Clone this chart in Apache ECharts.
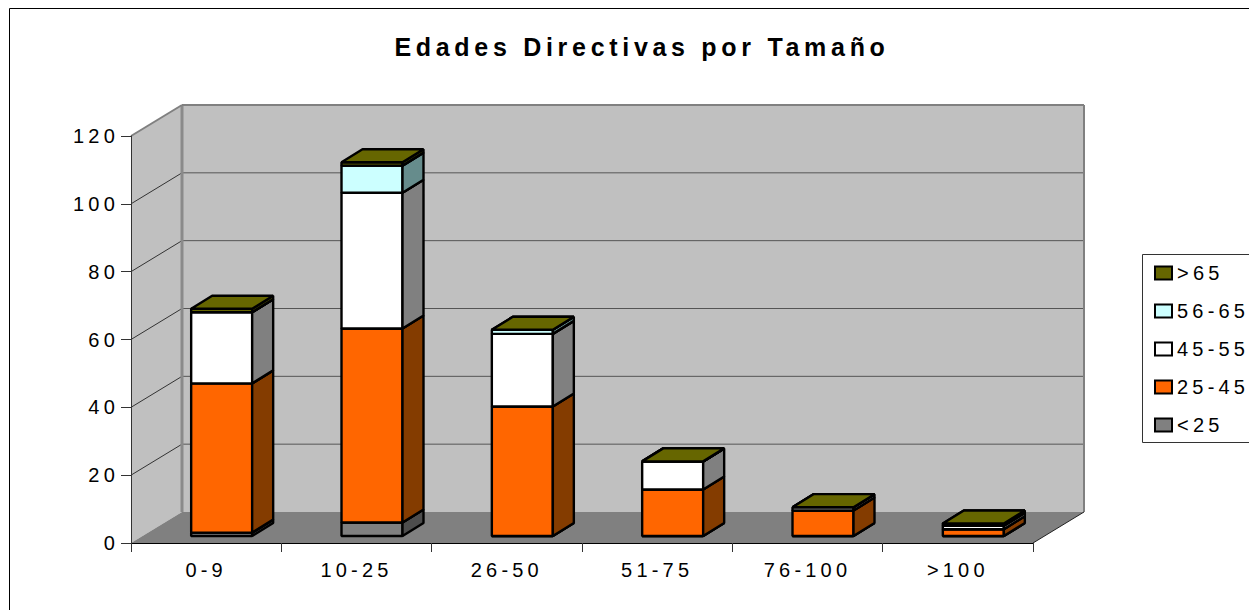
<!DOCTYPE html>
<html>
<head>
<meta charset="utf-8">
<script src="https://cdn.jsdelivr.net/npm/echarts@6/dist/echarts.min.js"></script>
<style>
html,body{margin:0;padding:0;background:#fff;overflow:hidden}
#c{width:1249px;height:610px}
#c svg text{letter-spacing:4.2px}
#c svg text[style*="bold"]{letter-spacing:4.7px}
</style>
</head>
<body>
<div id="c"></div>
<script>
const categories = ['0-9','10-25','26-50','51-75','76-100','>100'];
const under25 = [1,4,0,0,0,0];
const from25to45 = [44,57.2,38.2,13.7,7.5,2];
const from45to55 = [21,40,21.4,8.3,1,1];
const from56to65 = [0,8,1.2,0,0,0.7];
const over65 = [1,1,0,0,0,0];
const yTicks = [0,20,40,60,80,100,120];

const stackDefs = [
  {name:'<25', values:under25, front:'#808080', side:'#4d4d4d'},
  {name:'25-45', values:from25to45, front:'#ff6600', side:'#843c00'},
  {name:'45-55', values:from45to55, front:'#ffffff', side:'#808080'},
  {name:'56-65', values:from56to65, front:'#ccffff', side:'#668c8c'},
  {name:'>65', values:over65, front:'#666600', side:'#4d4d00'}
];
const WALL_DX = 51, WALL_DY = -31;
const BAR_DX = 21, BAR_DY = -13, BAR_SHIFT_X = 15.5, BAR_SHIFT_Y = -7, BAR_W = 61;
const EDGE = '#000000';

function poly(points, fill, stroke, lw){
  return {type:'polygon', shape:{points}, style:{fill:fill, stroke:stroke||null, lineWidth:lw||0, lineJoin:'bevel'}};
}
function line(a, b, color, lw){
  return {type:'line', shape:{x1:a[0],y1:a[1],x2:b[0],y2:b[1]}, style:{stroke:color, lineWidth:lw}};
}
function wallItem(params, api){
  const xFirst = api.coord([0,0]), size = api.size([1,0]);
  const L = xFirst[0]-size[0]/2, R = L+size[0]*categories.length;
  const B = api.coord([0,0])[1], T = api.coord([0,120])[1];
  const d = [WALL_DX, WALL_DY];
  const children = [
    poly([[L,B],[L,T],[L+d[0],T+d[1]],[L+d[0],B+d[1]]], '#c0c0c0'),
    poly([[L+d[0],B+d[1]],[L+d[0],T+d[1]],[R+d[0],T+d[1]],[R+d[0],B+d[1]]], '#c0c0c0'),
    poly([[L,B],[L+d[0],B+d[1]],[R+d[0],B+d[1]],[R,B]], '#808080')
  ];
  yTicks.slice(1,-1).forEach(function(v){
    const y = api.coord([0,v])[1];
    children.push(line([L,y],[L+d[0],y+d[1]],'#333333',1));
    children.push(line([L+d[0],y+d[1]],[R+d[0],y+d[1]],'#555555',1));
  });
  children.push(line([L+d[0],T+d[1]],[L+d[0],B+d[1]],'#8a8a8a',3));
  children.push(line([L+d[0],T+d[1]],[R+d[0],T+d[1]],'#808080',2));
  children.push(line([R+d[0],T+d[1]],[R+d[0],B+d[1]],'#808080',2));
  children.push(line([L,T],[L+d[0],T+d[1]],'#808080',2));
  children.push(line([R,B],[R+d[0],B+d[1]],'#222222',1));
  return {type:'group', children};
}
function barItem(def){
  return function(params, api){
    const i = api.value(0), lo = api.value(1), hi = api.value(2);
    const pLo = api.coord([i,lo]), pHi = api.coord([i,hi]);
    const x0 = pLo[0]+BAR_SHIFT_X-BAR_W/2, x1 = x0+BAR_W;
    const yB = pLo[1]+BAR_SHIFT_Y, yT = pHi[1]+BAR_SHIFT_Y;
    return {type:'group', children:[
      poly([[x0,yB],[x1,yB],[x1,yT],[x0,yT]], def.front, EDGE, 2.4),
      poly([[x1,yB],[x1+BAR_DX,yB+BAR_DY],[x1+BAR_DX,yT+BAR_DY],[x1,yT]], def.side, EDGE, 2.4),
      poly([[x0,yT],[x1,yT],[x1+BAR_DX,yT+BAR_DY],[x0+BAR_DX,yT+BAR_DY]], '#666600', EDGE, 2.4)
    ]};
  };
}
const barSeries = [];
const running = categories.map(function(){return 0;});
stackDefs.forEach(function(def, k){
  barSeries.push({
    type:'custom', name:def.name, z:3+k,
    coordinateSystem:'cartesian2d',
    itemStyle:{color:def.front, borderColor:EDGE, borderWidth:2},
    renderItem:barItem(def), silent:true,
    encode:{x:0,y:[1,2]},
    data:def.values.map(function(v,i){
      const lo = running[i]; running[i] += v; return [i,lo,running[i]];
    })
  });
});

const chart = echarts.init(document.getElementById('c'), null, {renderer:'svg'});
chart.setOption({
  animation:false,
  backgroundColor:'#ffffff',
  title:{text:'Edades Directivas por Tamaño', left:637, top:29, textAlign:'center',
    textStyle:{fontFamily:'Liberation Sans', fontSize:25, fontWeight:'bold', color:'#000'}},
  legend:{orient:'vertical', left:1154, top:263, itemWidth:17, itemHeight:13, itemGap:18, itemStyle:{borderColor:'#000',borderWidth:2},
    selectedMode:false, padding:0, icon:'rect',
    data:['>65','56-65','45-55','25-45','<25'],
    textStyle:{fontFamily:'Liberation Sans', fontSize:20, color:'#000', padding:[0,0,0,0], lineHeight:20}},
  grid:{left:131, top:136, width:902, height:407, containLabel:false},
  xAxis:{type:'category', data:categories, boundaryGap:true, z:2,
    axisLine:{lineStyle:{color:'#000',width:1}}, axisTick:{show:true, length:9, alignWithLabel:false, lineStyle:{color:'#333'}},
    axisLabel:{margin:17, interval:0, fontFamily:'Liberation Sans', fontSize:20, color:'#000'}, splitLine:{show:false}},
  yAxis:{type:'value', min:0, max:120, interval:20, z:2,
    axisLine:{show:true, lineStyle:{color:'#333',width:1}}, axisTick:{show:true, length:10, lineStyle:{color:'#333'}},
    axisLabel:{margin:12, fontFamily:'Liberation Sans', fontSize:20, color:'#000'}, splitLine:{show:false}},
  graphic:[
    {type:'rect', z:-10, shape:{x:9.5,y:8.5,width:1400,height:800}, style:{fill:'#fff',stroke:'#000',lineWidth:1}},
    {type:'rect', z:-9, shape:{x:1142.5,y:254.5,width:300,height:188}, style:{fill:'#fff',stroke:'#333',lineWidth:1}}
  ],
  series:[{type:'custom', name:'walls', z:1, silent:true, coordinateSystem:'cartesian2d', clip:false,
    renderItem:wallItem, data:[[0,0]]}].concat(barSeries)
});
</script>
</body>
</html>
